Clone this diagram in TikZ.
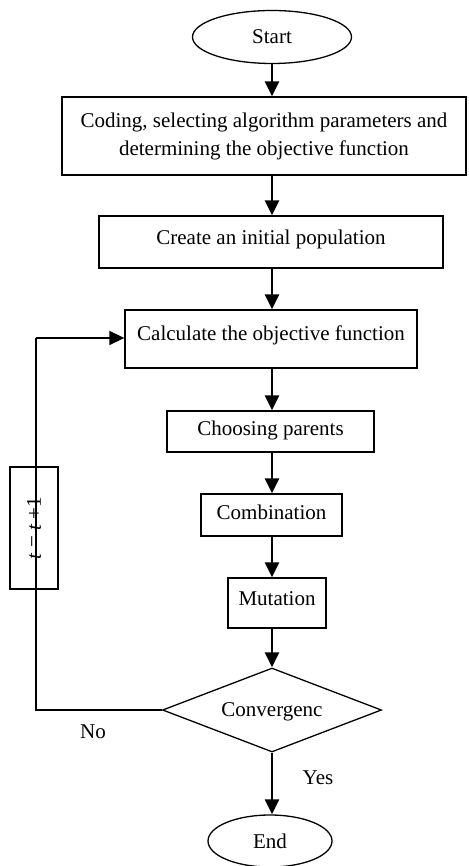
\documentclass[tikz,border=0pt]{standalone}
\usepackage{fontspec}
\setmainfont{Liberation Serif}
\usetikzlibrary{shapes.geometric,arrows.meta}
\begin{document}
\begin{tikzpicture}[x=1pt,y=-1pt,
  every node/.style={font=\fontsize{21}{28}\selectfont},
  box/.style={draw,line width=1.3pt,inner sep=0pt,align=center},
  term/.style={draw,ellipse,line width=1.3pt,inner sep=0pt},
  dec/.style={draw,diamond,line width=1.3pt,inner sep=0pt},
  flow/.style={line width=2.4pt,-{Triangle[width=14pt,length=15pt]}},
  loopline/.style={line width=1.6pt}]
\useasboundingbox (0,0) rectangle (468,866);
\node[term,minimum width=159pt,minimum height=53pt] (start) at (272,37) {Start};
\node[box,minimum width=404pt,minimum height=78pt] (code) at (264,136) {Coding, selecting algorithm parameters and\\determining the objective function};
\node[box,minimum width=344pt,minimum height=52pt,text depth=10pt] (init) at (271,242) {Create an initial population};
\node[box,minimum width=292pt,minimum height=58pt,text depth=12pt] (calc) at (271,339) {Calculate the objective function};
\node[box,minimum width=207pt,minimum height=41pt,text depth=6pt] (parent) at (270.5,431.5) {Choosing parents};
\node[box,minimum width=141pt,minimum height=42pt,text depth=6pt] (comb) at (271.5,515) {Combination};
\node[box,minimum width=98pt,minimum height=50pt,text depth=8pt] (mut) at (277,603) {Mutation};
\node[dec,minimum width=219pt,minimum height=84pt] (conv) at (272,710) {\raisebox{-0.3em}[0pt][0pt]{\makebox[0pt]{Convergenc}}};
\node[term,minimum width=124pt,minimum height=52pt] (end) at (270,841) {End};
\node[box,rotate=90,minimum width=122pt,minimum height=48pt] (inc) at (34,528) {\textit{t} = \textit{t} +1};
\node (no) at (93,732) {No};
\node (yes) at (318,778) {Yes};
\coordinate (c1) at (36,710);
\coordinate (c2) at (36,338);
\draw[flow] (start.south) -- (code.north -| start.south);
\draw[flow] (code.south -| start.south) -- (init.north -| start.south);
\draw[flow] (init.south -| start.south) -- (calc.north -| start.south);
\draw[flow] (calc.south -| start.south) -- (parent.north -| start.south);
\draw[flow] (parent.south -| start.south) -- (comb.north -| start.south);
\draw[flow] (comb.south -| start.south) -- (mut.north -| start.south);
\draw[flow] (mut.south -| start.south) -- (conv.north);
\draw[flow] (conv.south) -- (end.north -| conv.south);
\draw[loopline] (conv.west) -- (c1) -- (inc.east -| c1);
\draw[loopline] (inc.west -| c2) -- (c2);
\draw[loopline,-{Triangle[width=14pt,length=15pt]}] (c2) -- (calc.west |- c2);
\end{tikzpicture}
\end{document}
